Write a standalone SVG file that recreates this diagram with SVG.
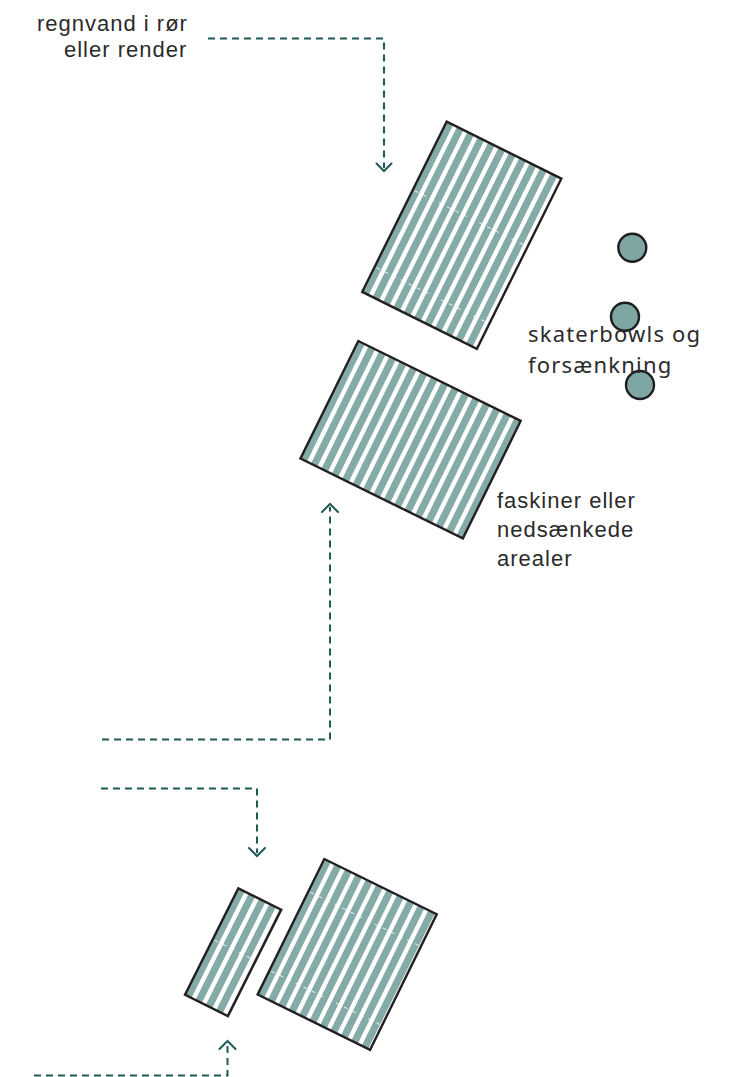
<svg xmlns="http://www.w3.org/2000/svg" width="731" height="1077" viewBox="0 0 731 1077">
<style>
.bg{fill:#ffffff}
.base{fill:#ffffff}
.stripe{fill:none;stroke:#84aba8;stroke-dasharray:7.2 4.4}
.edge{fill:none;stroke:#231f20;stroke-width:2.4}
.joint{fill:none;stroke:#ffffff;stroke-width:1.1;stroke-dasharray:4 5;opacity:0.75}
.bowl{fill:#7ea7a4;stroke:#1f1f1f;stroke-width:2.4}
.flow{fill:none;stroke:#1d5b54;stroke-width:2;stroke-dasharray:7 5}
.head{fill:none;stroke:#1d5b54;stroke-width:2;stroke-linecap:round;stroke-linejoin:miter}
.lbl{font-family:"Liberation Sans",Arial,sans-serif;font-size:22px;letter-spacing:1px;fill:#2b2b2b}
.lbl2{font-family:"Noto Sans","Open Sans",sans-serif;font-size:22px;letter-spacing:1.2px;fill:#2b2b2b}
</style>
<rect class="bg" x="0" y="0" width="731" height="1077"/>

<g id="connectors">
<path class="flow" d="M208 38.5 H384 V168"/>
<path class="head" d="M376.5 163.5 L384 171 L391.5 163.5"/>
<path class="flow" d="M102 739.5 H330 V507"/>
<path class="head" d="M322 512 L330 504 L338 512"/>
<path class="flow" d="M101 788.5 H257 V853"/>
<path class="head" d="M249 848 L257 856 L265 848"/>
<path class="flow" d="M34 1075.5 H227.5 V1045"/>
<path class="head" d="M219.5 1049 L227.5 1041 L235.5 1049"/>
</g>

<g id="plate-upper" transform="translate(446.7 121.7) rotate(26.4)">
<rect class="base" x="0" y="0" width="128" height="190"/>
<line class="stripe" x1="0" y1="95" x2="128" y2="95" stroke-width="190"/>
<line class="joint" x1="2" y1="76" x2="126" y2="76"/>
<line class="joint" x1="2" y1="162" x2="126" y2="162"/>
<rect class="edge" x="0" y="0" width="128" height="190"/>
</g>

<g id="plate-middle" transform="translate(358.3 341) rotate(26.2)">
<rect class="base" x="0" y="0" width="181" height="131"/>
<line class="stripe" x1="0" y1="65.5" x2="181" y2="65.5" stroke-width="131"/>
<rect class="edge" x="0" y="0" width="181" height="131"/>
</g>

<g id="plate-bottom-small" transform="translate(238.3 888.3) rotate(26.6)">
<rect class="base" x="0" y="0" width="48" height="119"/>
<line class="stripe" x1="0" y1="59.5" x2="48" y2="59.5" stroke-width="119"/>
<line class="joint" x1="2" y1="57" x2="46" y2="57"/>
<rect class="edge" x="0" y="0" width="48" height="119"/>
</g>

<g id="plate-bottom-large" transform="translate(324.3 859) rotate(26.2)">
<rect class="base" x="0" y="0" width="125.3" height="151"/>
<line class="stripe" x1="0" y1="75.5" x2="125.3" y2="75.5" stroke-width="151"/>
<line class="joint" x1="2" y1="36" x2="123" y2="36"/>
<line class="joint" x1="2" y1="124" x2="123" y2="124"/>
<rect class="edge" x="0" y="0" width="125.3" height="151"/>
</g>

<g id="bowl-1"><circle class="bowl" cx="632.3" cy="247.7" r="14"/></g>
<g id="bowl-2"><circle class="bowl" cx="625" cy="316.7" r="14"/></g>
<g id="bowl-3"><circle class="bowl" cx="640" cy="385" r="14"/></g>

<g id="label-regnvand">
<text class="lbl" x="37" y="31">regnvand i rør</text>
<text class="lbl" x="64" y="57">eller render</text>
</g>
<g id="label-skaterbowls">
<text class="lbl2" x="528" y="342">skaterbowls og</text>
<text class="lbl2" x="528" y="373">forsænkning</text>
</g>
<g id="label-faskiner">
<text class="lbl" x="497" y="508">faskiner eller</text>
<text class="lbl" x="497" y="537">nedsænkede</text>
<text class="lbl" x="497" y="566">arealer</text>
</g>
</svg>
